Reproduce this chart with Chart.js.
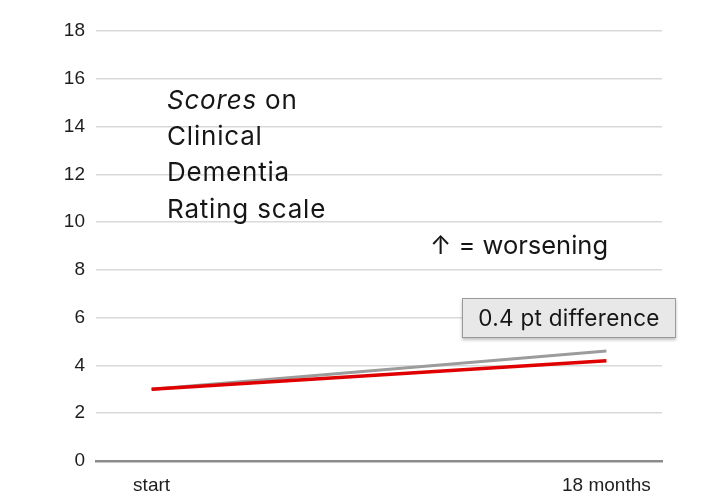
<!DOCTYPE html>
<html>
<head>
<meta charset="utf-8">
<script src="https://cdn.jsdelivr.net/npm/chart.js@4"></script>
<style>
  html, body { margin: 0; padding: 0; background: #ffffff; }
  #wrap { width: 712px; height: 500px; position: relative; }
</style>
</head>
<body>
<div id="wrap"><canvas id="c" width="712" height="500"></canvas></div>
<script>
// ---- data ----
const months = [0, 18];
const tickLabels = ['start', '18 months'];
const placeboScores = [3.0, 4.6];
const treatedScores = [3.0, 4.2];
const yTicks = [0, 2, 4, 6, 8, 10, 12, 14, 16, 18];
const titleLines = [['Scores', ' on'], ['Clinical'], ['Dementia'], ['Rating scale']];
const noteText = '\u2191 = worsening';
const calloutText = '0.4 pt difference';

const FONT = 'Inter, "Open Sans", sans-serif';

const annotations = {
  id: 'annotations',
  afterDatasetsDraw(chart) {
    const ctx = chart.ctx;
    const a = chart.chartArea;
    ctx.save();
    ctx.fillStyle = '#161616';
    ctx.textBaseline = 'middle';
    ctx.textAlign = 'left';
    // title block
    ctx.letterSpacing = '0.8px';
    const x0 = a.left + 71;
    let y = a.top + 70;
    titleLines.forEach((parts, i) => {
      let x = x0;
      parts.forEach((p, j) => {
        ctx.font = (i === 0 && j === 0 ? 'italic ' : '') + '26px ' + FONT;
        ctx.fillText(p, x, y);
        x += ctx.measureText(p).width;
      });
      y += 36.3;
    });
    // worsening note
    ctx.letterSpacing = '0px';
    ctx.font = '25.5px ' + FONT;
    ctx.fillText(noteText, a.left + 334, a.top + 215);
    // callout
    const bx = a.left + 366, by = a.top + 267, bw = 214, bh = 40;
    ctx.shadowColor = 'rgba(0,0,0,0.25)';
    ctx.shadowBlur = 3;
    ctx.shadowOffsetY = 2;
    ctx.fillStyle = '#e8e8e8';
    ctx.fillRect(bx, by, bw, bh);
    ctx.shadowColor = 'transparent';
    ctx.strokeStyle = '#9a9a9a';
    ctx.lineWidth = 1;
    ctx.strokeRect(bx + 0.5, by + 0.5, bw - 1, bh - 1);
    ctx.fillStyle = '#161616';
    ctx.letterSpacing = '0.3px';
    ctx.font = '22.5px ' + FONT;
    ctx.textAlign = 'center';
    ctx.fillText(calloutText, bx + bw / 2, by + bh / 2 + 1);
    ctx.restore();
  }
};

new Chart(document.getElementById('c'), {
  type: 'line',
  data: {
    datasets: [
      {
        label: 'Treatment',
        data: months.map((m, i) => ({ x: m, y: treatedScores[i] })),
        borderColor: '#e00000',
        borderWidth: 3.5,
        pointRadius: 0,
        order: 0
      },
      {
        label: 'Placebo',
        data: months.map((m, i) => ({ x: m, y: placeboScores[i] })),
        borderColor: '#9c9c9c',
        borderWidth: 3,
        pointRadius: 0,
        order: 1
      }
    ]
  },
  options: {
    responsive: false,
    animation: false,
    devicePixelRatio: 1,
    layout: { padding: { left: 0, right: 50, top: 31, bottom: 0 } },
    plugins: { legend: { display: false }, tooltip: { enabled: false } },
    scales: {
      x: {
        type: 'linear',
        min: -2.2,
        max: 20.2,
        afterBuildTicks(scale) { scale.ticks = months.map(v => ({ value: v })); },
        afterFit(scale) { scale.height = 39; },
        ticks: {
          autoSkip: false,
          callback: (v) => tickLabels[months.indexOf(v)],
          color: '#1e1e1e',
          font: { family: '"Liberation Sans", Arial, sans-serif', size: 19 },
          padding: 5,
          maxRotation: 0
        },
        grid: { display: false },
        border: { color: '#8c8c8c', width: 2.5 }
      },
      y: {
        min: 0,
        max: 18,
        afterBuildTicks(scale) { scale.ticks = yTicks.map(v => ({ value: v })); },
        afterFit(scale) { scale.width = 96; },
        ticks: {
          autoSkip: false,
          color: '#1e1e1e',
          font: { family: '"Liberation Sans", Arial, sans-serif', size: 19 },
          padding: 11
        },
        grid: {
          color: (c) => c.tick && c.tick.value === 0 ? 'rgba(0,0,0,0)' : '#d9d9d9',
          lineWidth: 1.5,
          drawTicks: false
        },
        border: { display: false }
      }
    }
  },
  plugins: [annotations]
});
</script>
</body>
</html>
